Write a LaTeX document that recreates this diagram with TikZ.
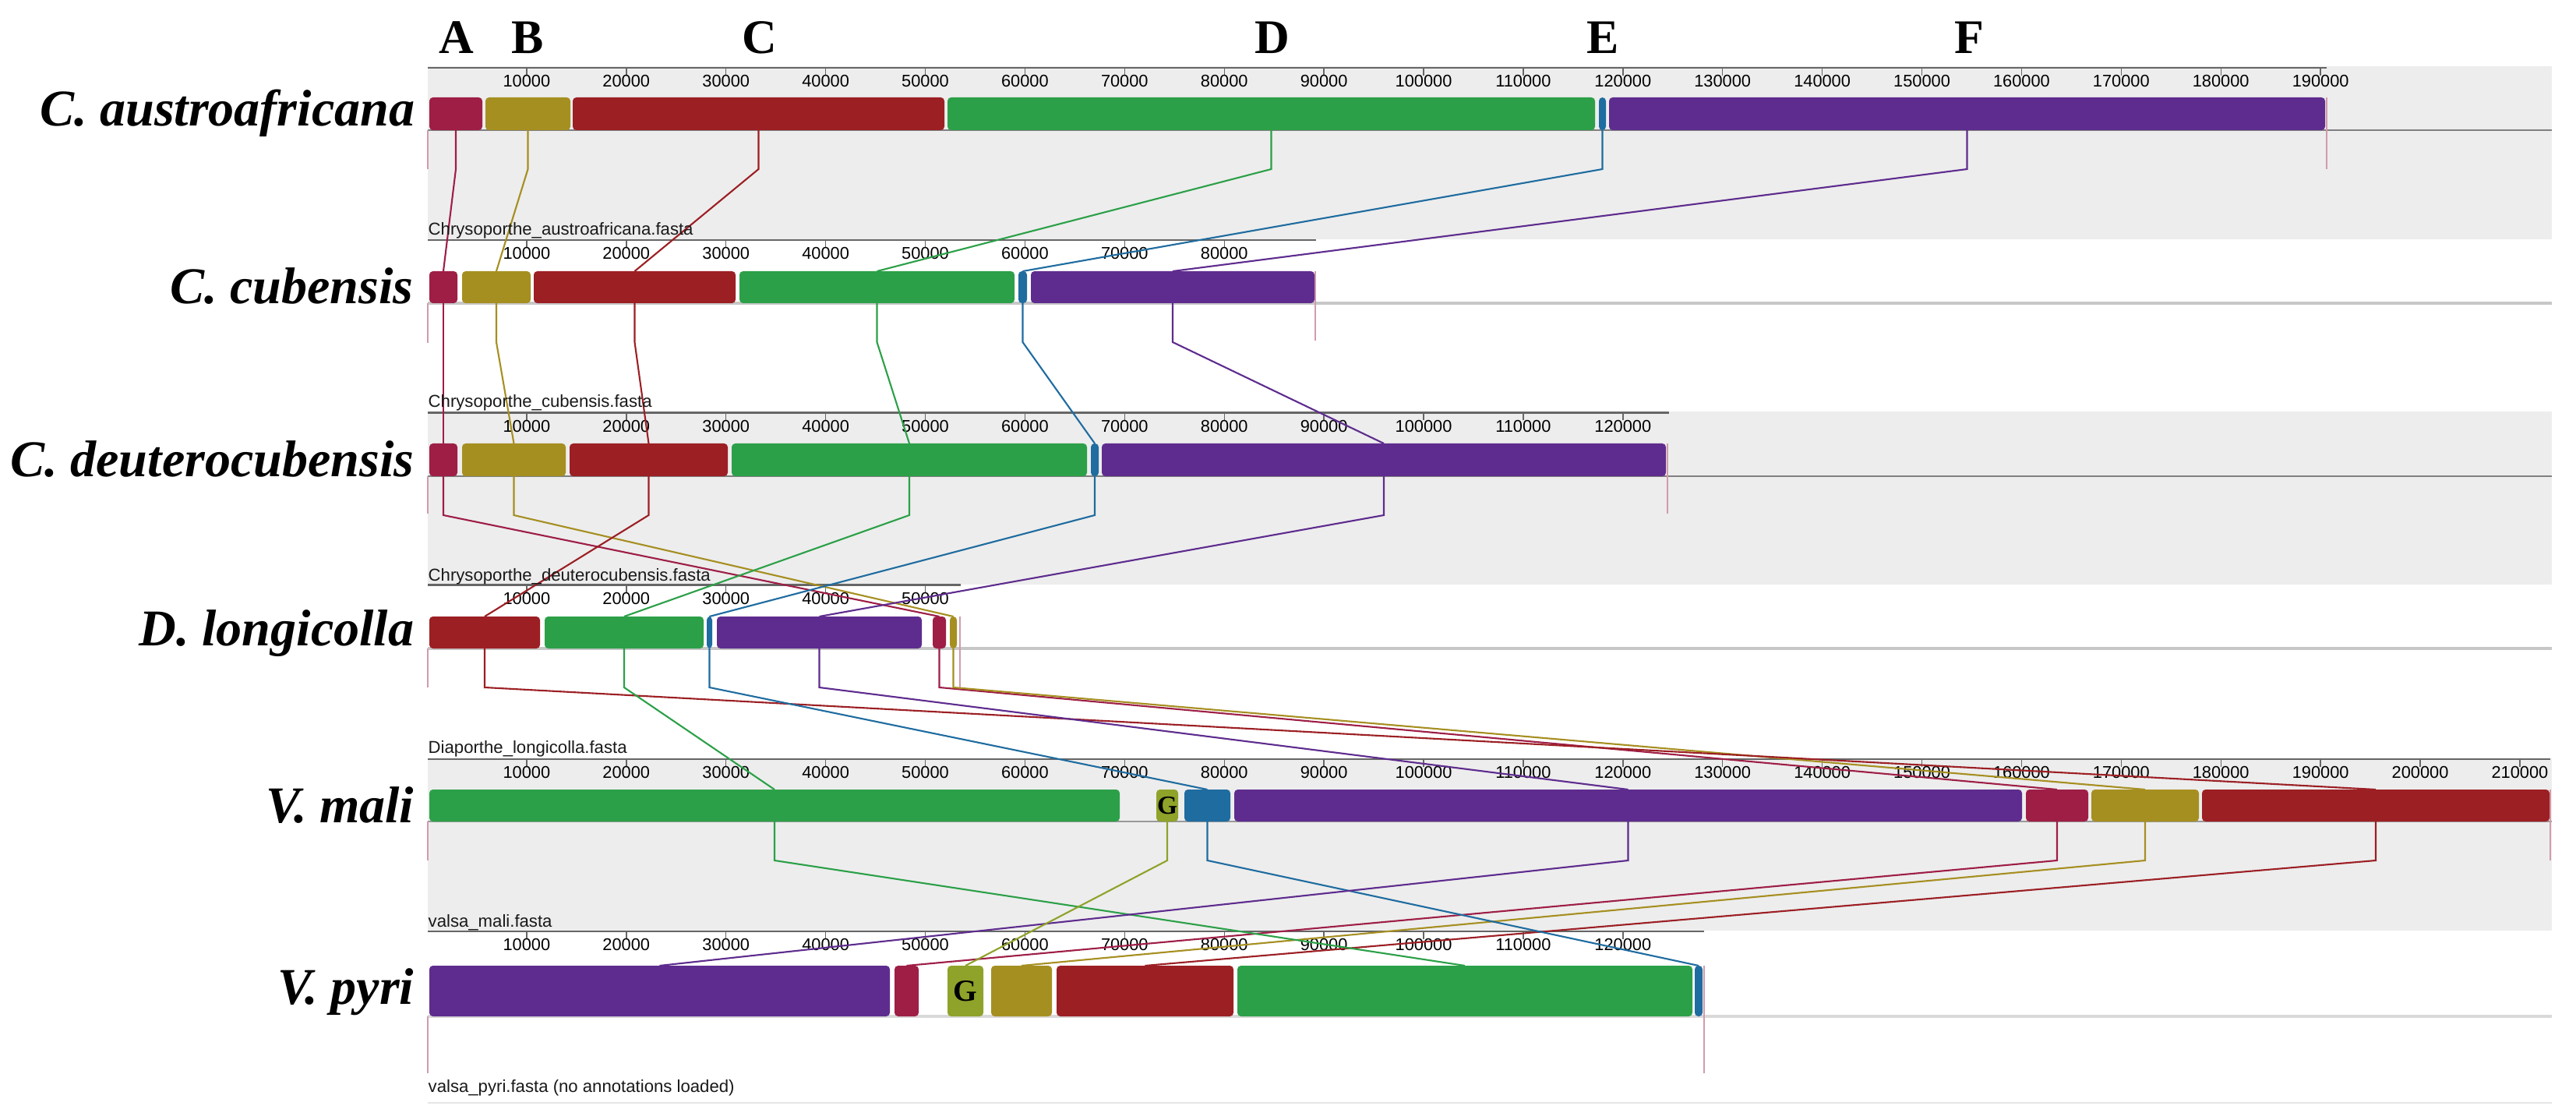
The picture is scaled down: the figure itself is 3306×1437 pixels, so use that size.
\documentclass[tikz,border=0pt]{standalone}
\usepackage{fontspec}
\setmainfont{Liberation Serif}
\setsansfont{Liberation Sans}
\definecolor{cA}{RGB}{158,30,70}
\definecolor{cB}{RGB}{166,143,33}
\definecolor{cC}{RGB}{156,31,36}
\definecolor{cD}{RGB}{44,160,72}
\definecolor{cE}{RGB}{31,108,160}
\definecolor{cF}{RGB}{94,44,142}
\definecolor{cG}{RGB}{143,162,42}
\definecolor{bgg}{RGB}{237,237,237}
\tikzset{
 blk/.style={rectangle, rounded corners=1.3pt, inner sep=0pt, outer sep=0pt},
 lnk/.style={line width=0.6pt},
 axisl/.style={draw=black!60, line width=0.75pt},
 tickl/.style={draw=black!60, line width=0.4pt},
 tickt/.style={font=\sffamily\fontsize{6.2}{7}\selectfont, text=black, inner sep=0pt},
 fname/.style={font=\sffamily\fontsize{6.3}{7}\selectfont, text=black!90, inner sep=0pt, anchor=base west},
 spec/.style={font=\bfseries\itshape\fontsize{18.8}{20}\selectfont, inner sep=0pt, anchor=base east},
 lett/.style={font=\bfseries\fontsize{17.6}{19}\selectfont, inner sep=0pt},
 endm/.style={draw=cA!45, line width=0.35pt},
}
\newcommand{\axisrow}[4]{%
 \draw[axisl] (549,#2) -- (#3,#2);
 \foreach \k in {1,...,#4}{
  \draw[tickl] ({548+\k*127.9},#2) -- ++(0,10);
  \node[tickt, name=t#1\k] at ({548+\k*127.9},{#2+17}) {\the\numexpr\k*10000\relax};
 }}
\newcommand{\blk}[6]{\node[blk, fill=#2, minimum width={(#4-#3)*0.01cm}, minimum height={(#6-#5)*0.01cm}] (#1) at ({(#3+#4)/2},{(#5+#6)/2}) {};}
\newcommand{\lk}[3]{\draw[lnk, draw=#3] (#1.south) -- ++(0,50) -- (#2.north);}
\begin{document}
\begin{tikzpicture}[x={(0.01cm,0)}, y={(0,-0.01cm)}]
\useasboundingbox (0,0) rectangle (3306,1437);
\fill[white] (0,0) rectangle (3306,1437);
% panel backgrounds
\fill[bgg] (549,85) rectangle (3275,307);
\fill[bgg] (549,528) rectangle (3275,750);
\fill[bgg] (549,973) rectangle (3275,1194);
\draw[black!10, line width=0.5pt] (549,1415) -- (3275,1415);
% centre lines
\draw[black!50, line width=0.6pt] (549,167) -- (3275,167);
\draw[black!22, line width=0.9pt] (549,389) -- (3275,389);
\draw[black!50, line width=0.8pt] (549,611) -- (3275,611);
\draw[black!22, line width=0.9pt] (549,832) -- (3275,832);
\draw[black!40, line width=0.8pt] (549,1054) -- (3275,1054);
\draw[black!15, line width=0.9pt] (549,1304) -- (3275,1304);
% axes
\axisrow{a}{87}{2986}{19}
\axisrow{b}{308}{1689}{8}
\axisrow{c}{529.5}{2142}{12}
\axisrow{d}{750.7}{1233}{5}
\axisrow{e}{974}{3273}{21}
\axisrow{f}{1195}{2187}{12}
% end markers
\draw[endm] (549,167) -- (549,217);
\draw[endm] (549,389) -- (549,440);
\draw[endm] (549,611) -- (549,659);
\draw[endm] (549,832) -- (549,882);
\draw[endm] (549,1054) -- (549,1104);
\draw[endm] (549,1304) -- (549,1377);
\draw[endm] (2986,125) -- (2986,217);
\draw[endm] (1688,348) -- (1688,437);
\draw[endm] (2140,569) -- (2140,659);
\draw[endm] (1232,791) -- (1232,882);
\draw[endm] (3273,1013) -- (3273,1104);
\draw[endm] (2187,1239) -- (2187,1377);
% row 1
\blk{aA}{cA}{551}{619}{125}{167}
\blk{aB}{cB}{623}{732}{125}{167}
\blk{aC}{cC}{735}{1212}{125}{167}
\blk{aD}{cD}{1216}{2047}{125}{167}
\blk{aE}{cE}{2052}{2061}{125}{167}
\blk{aF}{cF}{2065}{2984}{125}{167}
% row 2
\blk{bA}{cA}{551}{587}{348}{389}
\blk{bB}{cB}{593}{681}{348}{389}
\blk{bC}{cC}{685}{944}{348}{389}
\blk{bD}{cD}{949}{1302}{348}{389}
\blk{bE}{cE}{1307}{1318}{348}{389}
\blk{bF}{cF}{1323}{1687}{348}{389}
% row 3
\blk{cA}{cA}{551}{587}{569}{611}
\blk{cB}{cB}{593}{726}{569}{611}
\blk{cC}{cC}{731}{934}{569}{611}
\blk{cD}{cD}{939}{1395}{569}{611}
\blk{cE}{cE}{1400}{1410}{569}{611}
\blk{cF}{cF}{1414}{2138}{569}{611}
% row 4
\blk{dC}{cC}{551}{693}{791}{832}
\blk{dD}{cD}{699}{903}{791}{832}
\blk{dE}{cE}{907}{914}{791}{832}
\blk{dF}{cF}{920}{1183}{791}{832}
\blk{dA}{cA}{1197}{1214}{791}{832}
\blk{dB}{cB}{1219}{1228}{791}{832}
% row 5
\blk{eD}{cD}{551}{1437}{1013}{1054}
\blk{eG}{cG}{1484}{1512}{1013}{1054}
\blk{eE}{cE}{1520}{1579}{1013}{1054}
\blk{eF}{cF}{1584}{2595}{1013}{1054}
\blk{eA}{cA}{2600}{2680}{1013}{1054}
\blk{eB}{cB}{2684}{2822}{1013}{1054}
\blk{eC}{cC}{2826}{3272}{1013}{1054}
% row 6
\blk{fF}{cF}{551}{1142}{1239}{1304}
\blk{fA}{cA}{1148}{1179}{1239}{1304}
\blk{fG}{cG}{1216}{1262}{1239}{1304}
\blk{fB}{cB}{1272}{1350}{1239}{1304}
\blk{fC}{cC}{1356}{1583}{1239}{1304}
\blk{fD}{cD}{1588}{2172}{1239}{1304}
\blk{fE}{cE}{2175}{2185}{1239}{1304}
% G labels
\node[font=\bfseries\fontsize{9.5}{10}\selectfont, inner sep=0pt] (gl5) at (eG) {G};
\node[font=\bfseries\fontsize{11.2}{12}\selectfont, inner sep=0pt] (gl6) at (fG) {G};
% connectors
\foreach \s in {A,B,C,D,E,F}{
 \lk{a\s}{b\s}{c\s}
 \lk{b\s}{c\s}{c\s}
 \lk{c\s}{d\s}{c\s}
 \lk{d\s}{e\s}{c\s}
}
\foreach \s in {A,B,C,D,E,F,G}{
 \lk{e\s}{f\s}{c\s}
}
% species names
\node[spec] (s1) at (533,162) {C. austroafricana};
\node[spec] (s2) at (531,390) {C. cubensis};
\node[spec] (s3) at (532,612) {C. deuterocubensis};
\node[spec] (s4) at (532,828) {D. longicolla};
\node[spec] (s5) at (532,1055) {V. mali};
\node[spec] (s6) at (532,1288) {V. pyri};
% letters
\node[lett] (LA) at (586,48) {A};
\node[lett] (LB) at (677,48) {B};
\node[lett] (LC) at (975,48) {C};
\node[lett] (LD) at (1633,48) {D};
\node[lett] (LE) at (2057,48) {E};
\node[lett] (LF) at (2527,48) {F};
% file names
\node[fname] (f1) at (549,302) {Chrysoporthe\_austroafricana.fasta};
\node[fname] (f2) at (549,523) {Chrysoporthe\_cubensis.fasta};
\node[fname] (f3) at (549,745.5) {Chrysoporthe\_deuterocubensis.fasta};
\node[fname] (f4) at (549,966.5) {Diaporthe\_longicolla.fasta};
\node[fname] (f5) at (549,1189) {valsa\_mali.fasta};
\node[fname] (f6) at (549,1401) {valsa\_pyri.fasta (no annotations loaded)};
\end{tikzpicture}
\end{document}
